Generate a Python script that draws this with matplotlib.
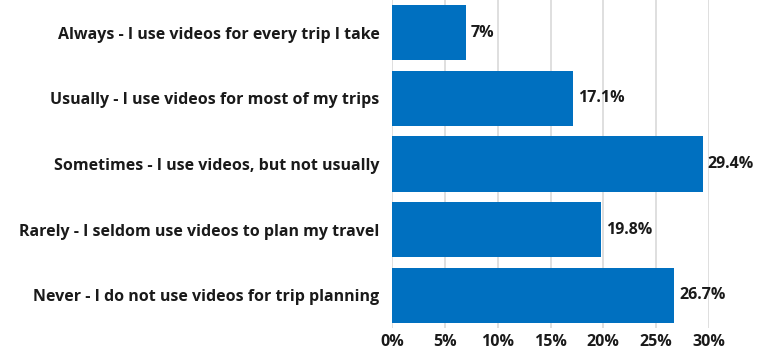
import matplotlib.pyplot as plt

categories = ["Always - I use videos for every trip I take",
              "Usually - I use videos for most of my trips",
              "Sometimes - I use videos, but not usually",
              "Rarely - I seldom use videos to plan my travel",
              "Never - I do not use videos for trip planning"]
values = [7, 17.1, 29.4, 19.8, 26.7]
value_labels = ["7%", "17.1%", "29.4%", "19.8%", "26.7%"]
ticks = [0, 5, 10, 15, 20, 25, 30]

plt.rcParams['font.family'] = ['Open Sans', 'DejaVu Sans']

fig = plt.figure(figsize=(7.69, 3.51), dpi=100)
ax = fig.add_axes([392 / 769, 1 - 328 / 351, 317 / 769, 328 / 351])

pos = list(range(len(categories)))
bars = ax.barh(pos, values, height=0.84, color="#0070c0", zorder=3)

ax.set_xlim(0, 30)
ax.set_ylim(len(categories) - 0.5, -0.5)
ax.set_xticks(ticks)
ax.set_xticklabels([f"{t}%" for t in ticks], fontsize=11.5, fontweight="bold", color="#1a1a1a")
ax.set_yticks(pos)
ax.set_yticklabels(categories, fontsize=11.5, fontweight="bold", color="#1a1a1a")
ax.tick_params(axis="x", length=0, pad=4.5)
ax.tick_params(axis="y", length=0, pad=9)
ax.grid(axis="x", color="#d9d9d9", linewidth=1.2, zorder=0)
for s in ax.spines.values():
    s.set_visible(False)

for rect, lab in zip(bars, value_labels):
    ax.annotate(lab, xy=(rect.get_width(), rect.get_y() + rect.get_height() / 2),
                xytext=(3.5, 0), textcoords="offset points", ha="left", va="center",
                fontsize=11.5, fontweight="bold", color="#1a1a1a", zorder=4)

fig.savefig("out.png", dpi=100)
